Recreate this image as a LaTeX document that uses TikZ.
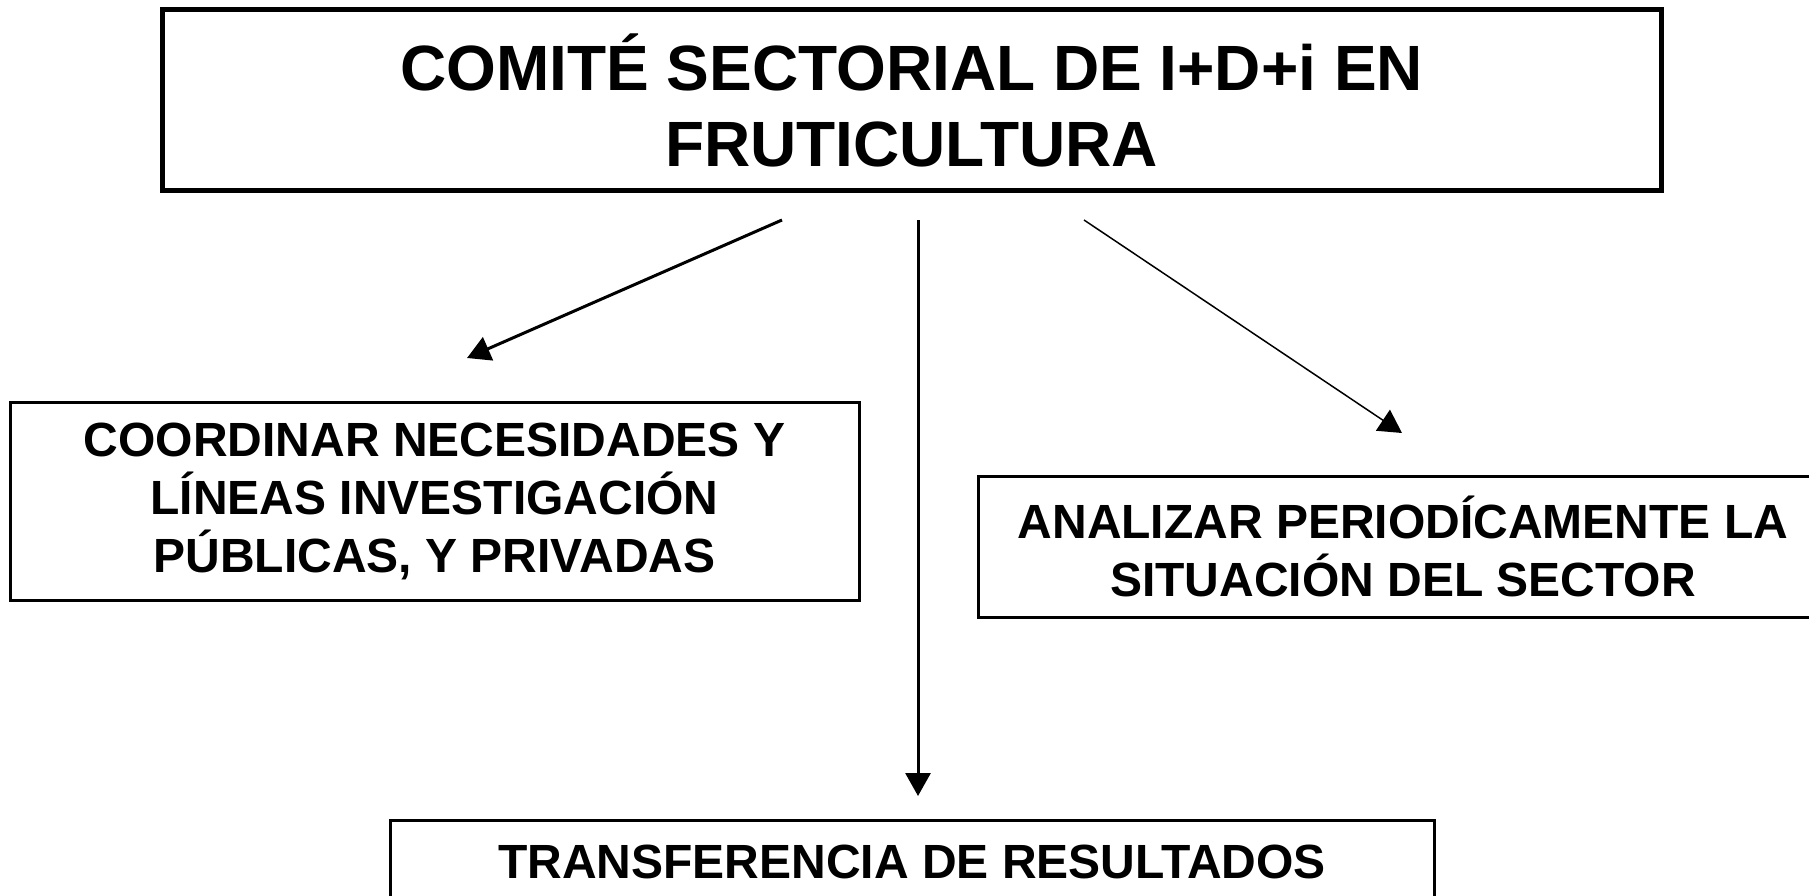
\documentclass[tikz,border=0pt]{standalone}
\usepackage{fontspec}
\setmainfont{Liberation Sans}
\usetikzlibrary{arrows.meta}

\begin{document}
\begin{tikzpicture}[
    x=1pt, y=-1pt,
    box/.style={draw, rectangle, line width=3pt, align=center, inner sep=0pt,
                font=\fontsize{48}{58}\selectfont\bfseries},
    arrow/.style={-{Triangle[length=23pt,width=25pt]}, line width=3pt}
]
\clip (0,0) rectangle (1809,896);
\useasboundingbox (0,0) rectangle (1809,896);

\node[box, line width=5pt, minimum width=1499pt, minimum height=181pt,
      font=\fontsize{64}{76}\selectfont\bfseries] (comite) at (911.5,100.5)
      {COMITÉ SECTORIAL DE I+D+i EN\\FRUTICULTURA};
\node[box, minimum width=849pt, minimum height=198pt] (coord) at (434.5,501)
      {COORDINAR NECESIDADES Y\\LÍNEAS INVESTIGACIÓN\\PÚBLICAS, Y PRIVADAS};
\node[box, minimum width=850pt, minimum height=141pt] (anal) at (1403,546.5)
      {ANALIZAR PERIODÍCAMENTE LA\\SITUACIÓN DEL SECTOR};
\node[box, minimum width=1044pt, minimum height=84pt] (trans) at (912,862)
      {TRANSFERENCIA DE RESULTADOS};

% free ends of the arrows
\coordinate (left start) at (782,220);
\coordinate (left end) at (467,358);
\coordinate (mid start) at (918,220);
\coordinate (mid end) at (918,796);
\coordinate (right start) at (1084,220);
\coordinate (right end) at (1402,433);

\draw[arrow] (left start) -- (left end);
\draw[arrow] (mid start) -- (mid end);
\draw[arrow, line width=1.5pt] (right start) -- (right end);

\end{tikzpicture}
\end{document}
